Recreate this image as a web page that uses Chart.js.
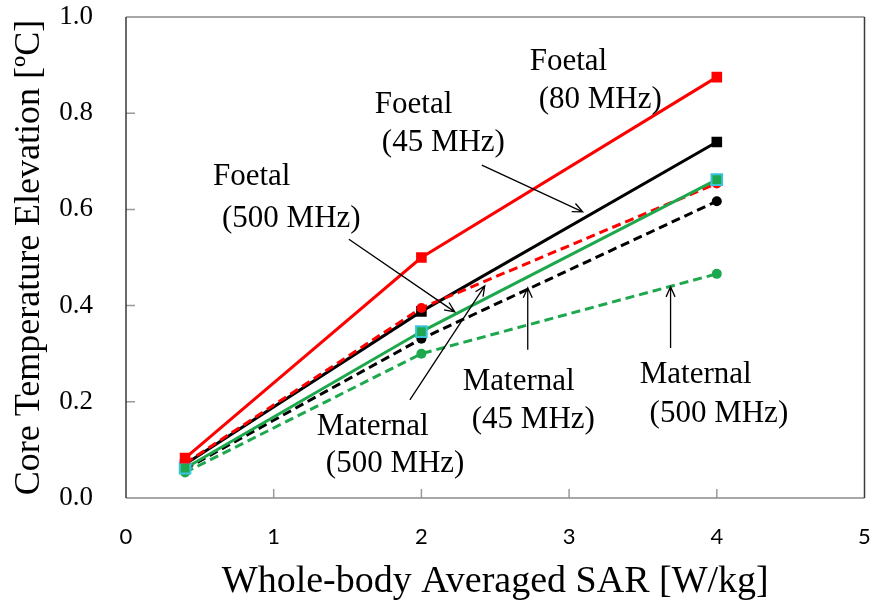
<!DOCTYPE html>
<html>
<head>
<meta charset="utf-8">
<script src="https://cdn.jsdelivr.net/npm/chart.js@4.4.0/dist/chart.umd.min.js"></script>
<style>
  body { margin: 0; background: #fff; }
  #wrap { width: 874px; height: 605px; }
</style>
</head>
<body>
<div id="wrap"><canvas id="sarChart"></canvas></div>
<script>
// whole-body averaged SAR [W/kg]
const sarValues = [0.4, 2, 4];

// core temperature elevation [ºC]
const foetal80 = [0.083, 0.500, 0.875];
const foetal45 = [0.070, 0.388, 0.740];
const foetal500 = [0.062, 0.346, 0.662];
const maternal80 = [0.072, 0.395, 0.654];
const maternal45 = [0.060, 0.331, 0.617];
const maternal500 = [0.053, 0.300, 0.466];

const xTickValues = [0, 1, 2, 3, 4, 5];
const yTickValues = [0.0, 0.2, 0.4, 0.6, 0.8, 1.0];

// callout text, placed in data units
const noteTexts = [
    { text: 'Foetal', x: 0.589, y: 0.651 },
    { text: '(500 MHz)', x: 0.650, y: 0.563 },
    { text: 'Foetal', x: 1.685, y: 0.800 },
    { text: '(45 MHz)', x: 1.732, y: 0.721 },
    { text: 'Foetal', x: 2.733, y: 0.890 },
    { text: '(80 MHz)', x: 2.794, y: 0.811 },
    { text: 'Maternal', x: 1.292, y: 0.131 },
    { text: '(500 MHz)', x: 1.353, y: 0.054 },
    { text: 'Maternal', x: 2.280, y: 0.225 },
    { text: '(45 MHz)', x: 2.341, y: 0.146 },
    { text: 'Maternal', x: 3.478, y: 0.239 },
    { text: '(500 MHz)', x: 3.545, y: 0.158 },
];

const noteArrows = [
    { from: [1.509, 0.538], to: [2.226, 0.387] },
    { from: [2.409, 0.692], to: [3.092, 0.595] },
    { from: [1.922, 0.204], to: [2.429, 0.441] },
    { from: [2.720, 0.308], to: [2.720, 0.437] },
    { from: [3.687, 0.312], to: [3.687, 0.439] },
];

const red = '#ff0000';
const green = '#1ea84e';
const cyan = '#3cc3dc';
const serif = '"Liberation Serif", "Times New Roman", serif';

Chart.defaults.font.family = serif;

const toPoints = (vals) => vals.map((v, i) => ({ x: sarValues[i], y: v }));

const solid = (vals, color, pointFill, pointEdge) => ({
    data: toPoints(vals),
    borderColor: color,
    borderWidth: 3,
    pointStyle: 'rect',
    pointRadius: 7.5,
    pointBackgroundColor: pointFill,
    pointBorderColor: pointEdge,
    pointBorderWidth: pointEdge === pointFill ? 0 : 2,
    tension: 0,
});

const dashed = (vals, color) => ({
    data: toPoints(vals),
    borderColor: color,
    borderWidth: 3,
    borderDash: [9, 5],
    pointStyle: 'circle',
    pointRadius: 5,
    pointBackgroundColor: color,
    pointBorderWidth: 0,
    tension: 0,
});

// index 0 is drawn on top
const datasets = [
    solid(foetal80, red, red, red),
    solid(foetal500, green, green, cyan),
    dashed(maternal80, red),
    solid(foetal45, '#000000', '#000000', '#000000'),
    dashed(maternal45, '#000000'),
    dashed(maternal500, green),
];

const drawArrow = (ctx, x1, y1, x2, y2) => {
    const ang = Math.atan2(y2 - y1, x2 - x1);
    const head = 11, spread = 0.42;
    ctx.beginPath();
    ctx.moveTo(x1, y1);
    ctx.lineTo(x2, y2);
    ctx.moveTo(x2 - head * Math.cos(ang - spread), y2 - head * Math.sin(ang - spread));
    ctx.lineTo(x2, y2);
    ctx.lineTo(x2 - head * Math.cos(ang + spread), y2 - head * Math.sin(ang + spread));
    ctx.stroke();
};

const framePlugin = {
    id: 'frame',
    beforeDatasetsDraw(chart) {
        const { ctx, chartArea: a, scales: { x, y } } = chart;
        ctx.save();
        ctx.lineWidth = 1.5;
        // inside tick marks
        ctx.strokeStyle = '#9a9a9a';
        ctx.beginPath();
        xTickValues.slice(1, -1).forEach(v => {
            const px = x.getPixelForValue(v);
            ctx.moveTo(px, a.bottom);
            ctx.lineTo(px, a.bottom - 9);
        });
        yTickValues.slice(1, -1).forEach(v => {
            const py = y.getPixelForValue(v);
            ctx.moveTo(a.left, py);
            ctx.lineTo(a.left + 9, py);
        });
        ctx.stroke();
        // box
        ctx.strokeStyle = '#8a8a8a';
        ctx.beginPath();
        ctx.moveTo(a.left, a.top); ctx.lineTo(a.right, a.top);
        ctx.moveTo(a.left, a.bottom); ctx.lineTo(a.right, a.bottom);
        ctx.stroke();
        ctx.strokeStyle = '#3a3a3a';
        ctx.beginPath();
        ctx.moveTo(a.left, a.top); ctx.lineTo(a.left, a.bottom);
        ctx.moveTo(a.right, a.top); ctx.lineTo(a.right, a.bottom);
        ctx.stroke();
        ctx.restore();
    },
    afterDatasetsDraw(chart) {
        const { ctx, scales: { x, y } } = chart;
        ctx.save();
        ctx.fillStyle = '#000';
        ctx.font = '31px ' + serif;
        ctx.textAlign = 'left';
        ctx.textBaseline = 'alphabetic';
        noteTexts.forEach(n => {
            ctx.fillText(n.text, x.getPixelForValue(n.x), y.getPixelForValue(n.y));
        });
        ctx.strokeStyle = '#000';
        ctx.lineWidth = 1.3;
        noteArrows.forEach(ar => {
            drawArrow(ctx,
                x.getPixelForValue(ar.from[0]), y.getPixelForValue(ar.from[1]),
                x.getPixelForValue(ar.to[0]), y.getPixelForValue(ar.to[1]));
        });
        ctx.restore();
    }
};

new Chart(document.getElementById('sarChart'), {
    type: 'line',
    data: { datasets },
    options: {
        responsive: true,
        maintainAspectRatio: false,
        animation: false,
        layout: { padding: { top: 17, right: 9, left: 0, bottom: 0 } },
        plugins: {
            legend: { display: false },
            tooltip: { enabled: false },
        },
        scales: {
            x: {
                type: 'linear',
                min: 0,
                max: 5,
                afterBuildTicks: (s) => { s.ticks = xTickValues.map(v => ({ value: v })); },
                afterFit: (s) => {
                    s.height = 107;
                    s.paddingLeft = 0;
                    s.paddingRight = 0;
                },
                grid: { display: false, drawTicks: false },
                border: { display: false },
                ticks: {
                    color: '#000',
                    padding: 26,
                    font: { family: 'Lato, "Open Sans", sans-serif', size: 22 },
                    callback: (v) => v,
                },
                title: {
                    display: true,
                    text: 'Whole-body Averaged SAR [W/kg]',
                    color: '#000',
                    font: { family: serif, size: 38 },
                    padding: { top: 0, bottom: 0 },
                },
            },
            y: {
                min: 0,
                max: 1,
                afterBuildTicks: (s) => { s.ticks = yTickValues.map(v => ({ value: v })); },
                afterFit: (s) => {
                    s.width = 126;
                    s.paddingTop = 0;
                    s.paddingBottom = 0;
                },
                grid: { display: false, drawTicks: false },
                border: { display: false },
                ticks: {
                    color: '#000',
                    padding: 33,
                    font: { family: serif, size: 27 },
                    callback: (v) => v.toFixed(1),
                },
                title: {
                    display: true,
                    text: 'Core Temperature Elevation [ºC]',
                    color: '#000',
                    font: { family: serif, size: 36 },
                    padding: { top: 8, bottom: 0 },
                },
            },
        },
    },
    plugins: [framePlugin],
});
</script>
</body>
</html>
